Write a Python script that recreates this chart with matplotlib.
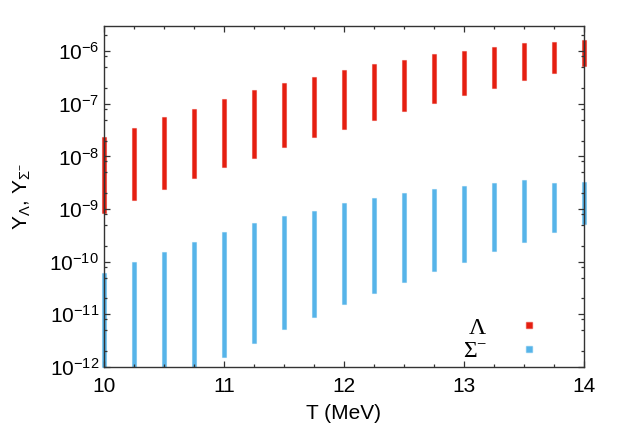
import numpy as np
import matplotlib
matplotlib.use('Agg')
import matplotlib.pyplot as plt
from matplotlib.ticker import LogLocator, MultipleLocator, FuncFormatter, NullFormatter

plt.rcParams['font.family'] = ['Liberation Sans', 'DejaVu Sans']
plt.rcParams['mathtext.default'] = 'regular'

# temperature grid (MeV)
T = [10.0, 10.25, 10.5, 10.75, 11.0, 11.25, 11.5, 11.75, 12.0,
     12.25, 12.5, 12.75, 13.0, 13.25, 13.5, 13.75, 14.0]

# Lambda yield: lowest / highest value in each column
lam_low = [8.3e-10, 1.5e-9, 2.4e-9, 3.9e-9, 6.3e-9, 9.5e-9, 1.5e-8, 2.3e-8, 3.3e-8,
           4.9e-8, 7.3e-8, 1.03e-7, 1.45e-7, 1.95e-7, 2.8e-7, 3.8e-7, 5.1e-7]
lam_high = [2.3e-8, 3.5e-8, 5.5e-8, 8.1e-8, 1.23e-7, 1.86e-7, 2.45e-7, 3.2e-7, 4.4e-7,
            5.6e-7, 6.8e-7, 8.7e-7, 1.0e-6, 1.18e-6, 1.4e-6, 1.47e-6, 1.65e-6]

# Sigma- yield: lowest / highest value in each column (cut at the plot floor)
sig_low = [1e-12, 1e-12, 1e-12, 1e-12, 1.55e-12, 2.9e-12, 5.3e-12, 9e-12, 1.6e-11,
           2.5e-11, 4.1e-11, 6.6e-11, 1.0e-10, 1.6e-10, 2.4e-10, 3.6e-10, 5.1e-10]
sig_high = [6.0e-11, 9.8e-11, 1.5e-10, 2.4e-10, 3.6e-10, 5.4e-10, 7.4e-10, 9.1e-10, 1.3e-9,
            1.6e-9, 2.0e-9, 2.4e-9, 2.7e-9, 3.1e-9, 3.5e-9, 3.1e-9, 3.2e-9]

red = '#e51e10'
blue = '#56b4e9'

fig = plt.figure(figsize=(6.23, 4.36), dpi=100)
ax = fig.add_axes([0.1669, 0.1583, 0.7705, 0.7821])
ax.set_yscale('log')

for low, high, col in [(lam_low, lam_high, red), (sig_low, sig_high, blue)]:
    low = np.array(low)
    high = np.array(high)
    ax.bar(T, high - low, bottom=low, width=0.04, color=col,
           edgecolor=matplotlib.colors.to_rgba(col, 0.45), linewidth=0.8,
           clip_on=False, zorder=1)

# legend proxies
h1, = ax.plot([], [], 's', ms=4.5, mfc=red, mec=matplotlib.colors.to_rgba(red, 0.5), label=r'$\Lambda$')
h2, = ax.plot([], [], 's', ms=4.5, mfc=blue, mec=matplotlib.colors.to_rgba(blue, 0.5), label=r'$\Sigma^{-}$')
ax.legend(handles=[h1, h2], loc='center right', bbox_to_anchor=(0.91, 0.08),
          markerfirst=False, frameon=False, handlelength=1.0, handletextpad=1.27,
          labelspacing=0.1, borderpad=0, borderaxespad=0,
          prop={'family': 'Liberation Serif', 'size': 17})

ax.set_xlim(10, 14)
ax.set_ylim(1e-12, 3e-6)
ax.xaxis.set_major_locator(MultipleLocator(1))
ax.xaxis.set_minor_locator(MultipleLocator(0.25))
ax.yaxis.set_major_locator(LogLocator(base=10, numticks=20))
ax.yaxis.set_minor_locator(LogLocator(base=10, subs=[2, 5, 8], numticks=20))
ax.yaxis.set_major_formatter(FuncFormatter(lambda v, p: r'$10^{%d}$' % round(np.log10(v))))
ax.yaxis.set_minor_formatter(NullFormatter())

ax.tick_params(which='both', direction='in', top=True, right=True, labelsize=15,
               width=0.9, color='#333333')
ax.tick_params(which='major', length=4.3)
ax.tick_params(which='minor', length=2.2)
ax.tick_params(axis='x', pad=7)
for s in ax.spines.values():
    s.set_linewidth(1.0)
    s.set_color('#333333')

ax.set_xlabel('T (MeV)', fontsize=15, labelpad=6)
ax.set_ylabel(r'Y$_{\Lambda}$, Y$_{\Sigma^{-}}$', fontsize=15, labelpad=12)

fig.savefig('out.png', dpi=100)
